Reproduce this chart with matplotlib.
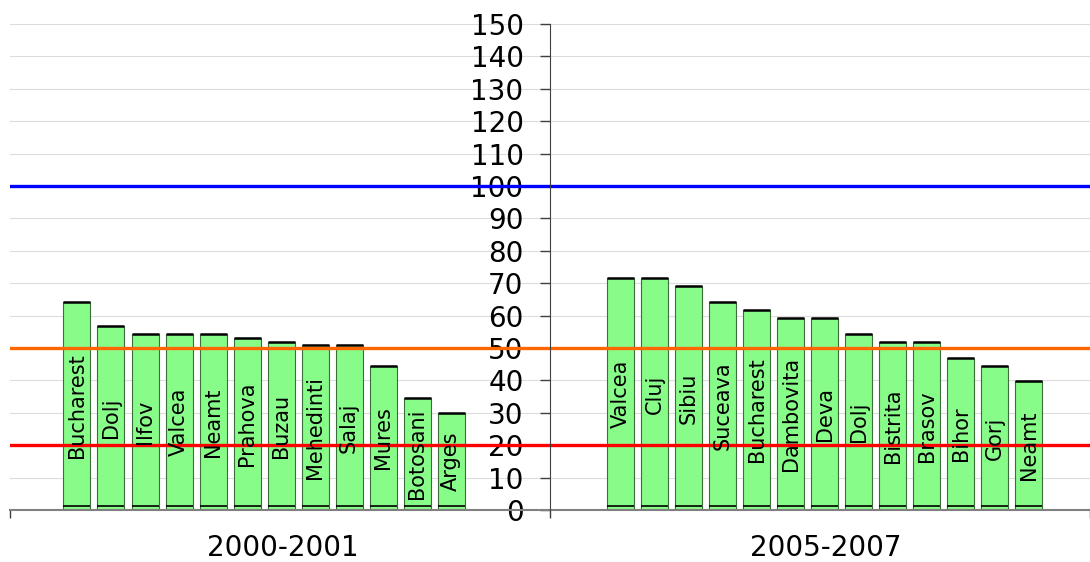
import numpy as np
import matplotlib
matplotlib.use("Agg")
import matplotlib.pyplot as plt

# --- data
periods = ["2000-2001", "2005-2007"]

names_2000 = ["Bucharest", "Dolj", "Ilfov", "Valcea", "Neamt", "Prahova",
              "Buzau", "Mehedinti", "Salaj", "Mures", "Botosani", "Arges"]
vals_2000 = [64.2, 56.8, 54.3, 54.3, 54.3, 53.0,
             52.0, 51.0, 51.0, 44.5, 34.7, 29.8]

names_2005 = ["Valcea", "Cluj", "Sibiu", "Suceava", "Bucharest", "Dambovita",
              "Deva", "Dolj", "Bistrita", "Brasov", "Bihor", "Gorj", "Neamt"]
vals_2005 = [71.5, 71.5, 69.2, 64.1, 61.8, 59.3,
             59.3, 54.4, 52.0, 52.0, 47.0, 44.5, 39.7]

ref_levels = [100, 50, 20]
ref_colors = ["#0000ff", "#ff6600", "#ff0000"]

# --- layout
step = 0.063
width = 0.05
starts = [0.124, 1.131]
fill = "#88fc88"

fig = plt.figure(figsize=(10.9, 5.62), dpi=100)
ax = fig.add_axes([10 / 1090, 52 / 562, 1080 / 1090, 486 / 562])

ax.set_xlim(0, 2)
ax.set_ylim(0, 150)

# gridlines
for yv in range(10, 151, 10):
    ax.axhline(yv, color="#dcdcdc", lw=0.8, zorder=0)

for start, names, vals in [(starts[0], names_2000, vals_2000),
                           (starts[1], names_2005, vals_2005)]:
    x = start + step * np.arange(len(vals))
    ax.bar(x, vals, width=width, color=fill, edgecolor="#3c6e3c",
           linewidth=0.8, zorder=2)
    for xi, v, nm in zip(x, vals, names):
        # dark caps at top and bottom of each bar (pseudo 3D look)
        ax.plot([xi - width / 2, xi + width / 2], [v, v], color="black",
                lw=1.8, solid_capstyle="butt", zorder=3)
        ax.plot([xi - width / 2, xi + width / 2], [1.3, 1.3], color="black",
                lw=1.2, solid_capstyle="butt", zorder=3)
        ax.text(xi, v / 2, nm, rotation=90, ha="center", va="center",
                fontsize=15, color="black", zorder=5)

for lvl, c in zip(ref_levels, ref_colors):
    ax.axhline(lvl, color=c, lw=2.4, zorder=4)

# axes styling
for s in ["top", "right"]:
    ax.spines[s].set_visible(False)
ax.spines["left"].set_position(("data", 1))
ax.spines["left"].set_color("#404040")
ax.spines["left"].set_zorder(4)
ax.spines["bottom"].set_color("#808080")
ax.spines["bottom"].set_linewidth(1.5)

ax.set_yticks(range(0, 151, 10))
ax.tick_params(axis="y", direction="out", length=7, width=1, color="#404040",
               labelsize=20, pad=12)

ax.set_xticks([0.505, 1.51])
ax.set_xticklabels(periods)
ax.set_xticks([0, 1, 2], minor=True)
ax.tick_params(axis="x", which="major", length=0, labelsize=20, pad=17)
ax.tick_params(axis="x", which="minor", length=6, width=1, color="#404040")

fig.savefig("out.png", dpi=100)
